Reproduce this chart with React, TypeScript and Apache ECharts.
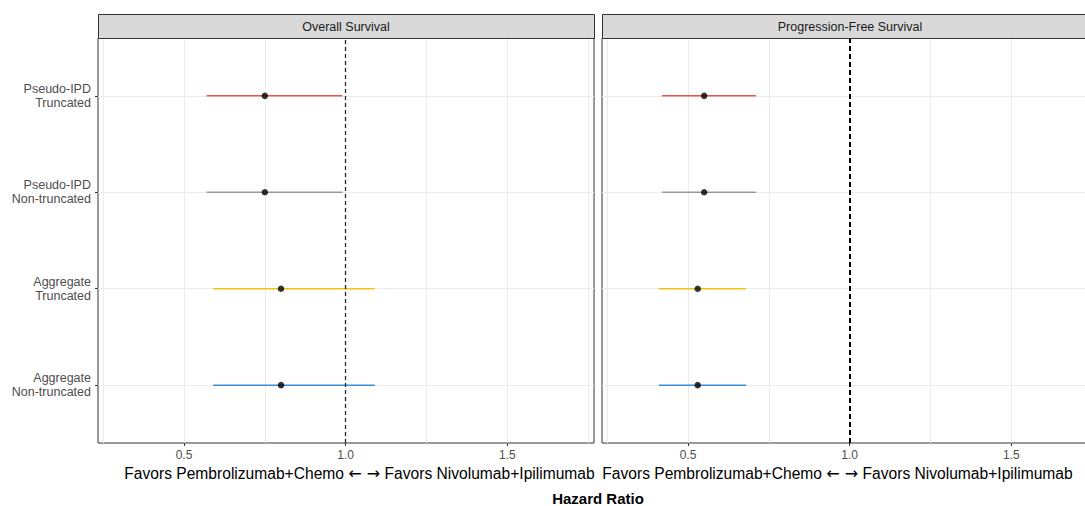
import React, { useEffect, useRef } from 'react';
import * as echarts from 'echarts';

const categories = ['Aggregate\nNon-truncated', 'Aggregate\nTruncated', 'Pseudo-IPD\nNon-truncated', 'Pseudo-IPD\nTruncated'];
const rowPositions = [1, 2, 3, 4];
const rowColors = ['#3A8EDB', '#F2C40F', '#999999', '#F2514B'];
const panelTitles = ['Overall Survival', 'Progression-Free Survival'];
const osHR = [0.80, 0.80, 0.75, 0.75];
const osLower = [0.59, 0.59, 0.57, 0.57];
const osUpper = [1.09, 1.09, 0.99, 0.99];
const pfsHR = [0.53, 0.53, 0.55, 0.55];
const pfsLower = [0.41, 0.41, 0.42, 0.42];
const pfsUpper = [0.68, 0.68, 0.71, 0.71];
const xTicks = [0.5, 1.0, 1.5];
const xGridValues = [0.25, 0.5, 0.75, 1.0, 1.25, 1.5, 1.75];
const referenceHR = 1.0;
const noteLeft = 'Favors Pembrolizumab+Chemo ';
const noteArrows = '\u2190 \u2192';
const noteRight = ' Favors Nivolumab+Ipilimumab';
const xAxisTitle = 'Hazard Ratio';

const FONT = '"Liberation Sans", Arial, Helvetica, sans-serif';

const panelLeft = [98, 602];
const panelWidth = 496;
const panelTop = 38;
const panelHeight = 405;
const stripTop = 14;
const noteCenters = [359.5, 837.5];
const dashStyles = [
  { color: '#2B2B2B', width: 1.3, type: [4, 3] },
  { color: '#000000', width: 2, type: [5, 3] },
];

export default function App() {
  const ref = useRef<HTMLDivElement>(null);

  useEffect(() => {
    document.body.style.margin = '0';
    if (!ref.current) return;
    const chart = echarts.init(ref.current, undefined, { renderer: 'svg' });

    const panels = [
      { hr: osHR, lo: osLower, hi: osUpper },
      { hr: pfsHR, lo: pfsLower, hi: pfsUpper },
    ];

    const grids = panelLeft.map((l) => ({
      left: l,
      top: panelTop,
      width: panelWidth,
      height: panelHeight,
      show: true,
      borderColor: '#333333',
      borderWidth: 1,
      backgroundColor: '#ffffff',
      containLabel: false,
      outerBoundsMode: 'none',
    }));

    const xAxes = panelLeft.map((_, i) => ({
      type: 'value',
      gridIndex: i,
      min: 0.234,
      max: 1.768,
      axisLine: { show: false },
      splitLine: { show: false },
      axisTick: { show: true, customValues: xTicks, length: 3, lineStyle: { color: '#333333' } },
      axisLabel: {
        customValues: xTicks,
        formatter: (v: number) => v.toFixed(1),
        color: '#4D4D4D',
        fontSize: 12,
        fontFamily: FONT,
        margin: 6,
      },
    }));

    const yAxes = panelLeft.map((_, i) => ({
      type: 'value',
      gridIndex: i,
      min: 0.4,
      max: 4.6,
      axisLine: { show: false },
      splitLine: { show: false },
      axisTick: { show: i === 0, customValues: rowPositions, length: 3, lineStyle: { color: '#333333' } },
      axisLabel: {
        show: i === 0,
        customValues: rowPositions,
        formatter: (v: number) => categories[Math.round(v) - 1] ?? '',
        color: '#4D4D4D',
        fontSize: 12.5,
        lineHeight: 14,
        fontFamily: FONT,
        align: 'right',
        margin: 7,
      },
    }));

    const series: any[] = [];
    panels.forEach((p, i) => {
      series.push({
        type: 'line',
        xAxisIndex: i,
        yAxisIndex: i,
        data: [],
        silent: true,
        z: 1,
        markLine: {
          silent: true,
          symbol: ['none', 'none'],
          z: 1,
          label: { show: false },
          lineStyle: { color: '#EBEBEB', width: 1, type: 'solid' },
          data: [
            ...xGridValues.map((v) => ({ xAxis: v })),
            ...rowPositions.map((v) => ({ yAxis: v })),
          ],
        },
      });
      series.push({
        type: 'custom',
        xAxisIndex: i,
        yAxisIndex: i,
        z: 2,
        silent: true,
        data: rowPositions.map((y, k) => [p.lo[k], p.hi[k], y, k]),
        encode: { x: [0, 1], y: 2 },
        renderItem: (params: any, api: any) => {
          const a = api.coord([api.value(0), api.value(2)]);
          const b = api.coord([api.value(1), api.value(2)]);
          const k = api.value(3);
          return {
            type: 'line',
            shape: { x1: a[0], y1: a[1], x2: b[0], y2: b[1] },
            style: { stroke: rowColors[k], lineWidth: 1.5 },
          };
        },
      });
      series.push({
        type: 'line',
        xAxisIndex: i,
        yAxisIndex: i,
        data: [],
        silent: true,
        z: 3,
        markLine: {
          silent: true,
          symbol: ['none', 'none'],
          z: 3,
          label: { show: false },
          lineStyle: dashStyles[i],
          data: [{ xAxis: referenceHR }],
        },
      });
      series.push({
        type: 'scatter',
        xAxisIndex: i,
        yAxisIndex: i,
        z: 4,
        silent: true,
        symbol: 'circle',
        symbolSize: 6.5,
        itemStyle: { color: '#000000' },
        data: rowPositions.map((y, k) => [p.hr[k], y]),
      });
    });

    const graphics: any[] = [];
    panelLeft.forEach((l, i) => {
      graphics.push({
        type: 'rect',
        shape: { x: l + 0.5, y: stripTop + 0.5, width: panelWidth, height: panelTop - stripTop },
        style: { fill: '#D9D9D9', stroke: '#333333', lineWidth: 1 },
        z: 10,
      });
      graphics.push({
        type: 'text',
        x: l + panelWidth / 2,
        y: (stripTop + panelTop) / 2 + 0.5,
        style: {
          text: panelTitles[i],
          fill: '#1A1A1A',
          font: `12.5px ${FONT}`,
          textAlign: 'center',
          textVerticalAlign: 'middle',
        },
        z: 11,
      });
      graphics.push({
        type: 'text',
        x: noteCenters[i],
        y: 473,
        style: {
          text: `{a|${noteLeft}}{b|${noteArrows}}{a|${noteRight}}`,
          textAlign: 'center',
          textVerticalAlign: 'middle',
          rich: {
            a: { fontFamily: FONT, fontSize: 15.6, fill: '#000000' },
            b: { fontFamily: '"DejaVu Sans", sans-serif', fontSize: 16, fill: '#000000' },
          },
        },
        z: 11,
      });
    });
    graphics.push({
      type: 'text',
      x: 598,
      y: 498,
      style: {
        text: xAxisTitle,
        fill: '#000000',
        font: `bold 15px ${FONT}`,
        textAlign: 'center',
        textVerticalAlign: 'middle',
      },
      z: 11,
    });

    chart.setOption({
      animation: false,
      backgroundColor: '#ffffff',
      grid: grids,
      xAxis: xAxes,
      yAxis: yAxes,
      series,
      graphic: graphics,
    });

    return () => chart.dispose();
  }, []);

  return <div ref={ref} style={{ width: 1085, height: 506 }} />;
}
